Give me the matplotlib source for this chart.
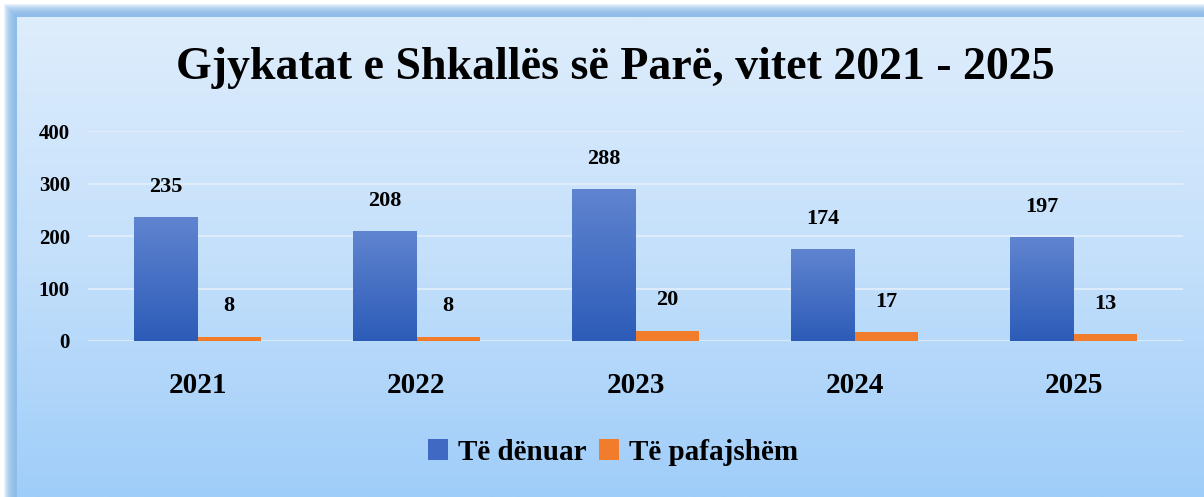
import numpy as np
import matplotlib.pyplot as plt
from matplotlib.colors import LinearSegmentedColormap
from matplotlib.patches import Patch, Rectangle

years = ['2021', '2022', '2023', '2024', '2025']
te_denuar = [235, 208, 288, 174, 197]
te_pafajshem = [8, 8, 20, 17, 13]
series_names = ['Të dënuar', 'Të pafajshëm']

serif = ['Liberation Serif', 'DejaVu Serif']
blue_top, blue_bot = '#6084d0', '#2c5cb8'
orange = '#f07c2c'

W, H = 1204, 497
fig = plt.figure(figsize=(W / 100, H / 100), dpi=100)
fig.patch.set_facecolor('white')

# fondi me gradient dhe hije e bute ne te majte/lart
bg = fig.add_axes([0, 0, 1, 1], zorder=-10)
bg.axis('off')
for i in range(12):
    off = 4 + i
    bg.add_patch(Rectangle((off, off), W, H, facecolor='#86b8e8', alpha=0.18, lw=0))
bg_cmap = LinearSegmentedColormap.from_list('bg', ['#deedfc', '#c4e0fb', '#9fcdf9'])
grad = np.linspace(0, 1, 256).reshape(-1, 1)
bg.imshow(grad, cmap=bg_cmap, extent=[17, W, H, 17], aspect='auto', zorder=2)
bg.set_xlim(0, W)
bg.set_ylim(H, 0)

fig.text(615 / W, 1 - 68 / H, 'Gjykatat e Shkallës së Parë, vitet 2021 - 2025',
         ha='center', va='center', fontsize=33, fontweight='bold', family=serif)

ax = fig.add_axes([88 / W, 1 - 341 / H, (1183 - 88) / W, (341 - 131) / H])
ax.patch.set_alpha(0)
x = np.arange(len(years))
w = 0.288
b1 = ax.bar(x - w / 2, te_denuar, w, color=blue_bot, zorder=3)
b2 = ax.bar(x + w / 2, te_pafajshem, w, color=orange, zorder=3)

# gradient ne shtyllat blu
bar_cmap = LinearSegmentedColormap.from_list('bar', [blue_bot, blue_top])
for p in b1:
    x0, y0 = p.get_x(), p.get_y()
    ax.imshow(grad, cmap=bar_cmap, origin='lower', aspect='auto', zorder=4,
              extent=[x0, x0 + p.get_width(), y0, y0 + p.get_height()])

for bars, vals in [(b1, te_denuar), (b2, te_pafajshem)]:
    for p, v in zip(bars, vals):
        ax.annotate(str(v), (p.get_x() + p.get_width() / 2, p.get_height()),
                    xytext=(0, 22), textcoords='offset points', ha='center', va='center',
                    fontsize=16, fontweight='bold', family=serif)

ax.set_xlim(-0.5, len(years) - 0.5)
ax.set_ylim(0, 400)
ax.set_yticks([0, 100, 200, 300, 400])
ax.set_xticks(x)
ax.set_xticklabels(years)
ax.tick_params(length=0)
ax.tick_params(axis='y', pad=13)
ax.tick_params(axis='x', pad=22)
for lab in ax.get_yticklabels():
    lab.set_fontsize(15)
    lab.set_fontweight('bold')
    lab.set_family(serif)
for lab in ax.get_xticklabels():
    lab.set_fontsize(21)
    lab.set_fontweight('bold')
    lab.set_family(serif)
ax.grid(axis='y', color='#e4eefa', lw=1.2, zorder=1)
for s in ax.spines.values():
    s.set_visible(False)

handles = [Patch(facecolor='#3f69c2'), Patch(facecolor=orange)]
fig.legend(handles, series_names, loc='center', bbox_to_anchor=(613 / W, 1 - 452 / H),
           ncol=2, frameon=False, handlelength=0.7, handleheight=0.7,
           handletextpad=0.35, columnspacing=0.4,
           prop={'family': serif, 'weight': 'bold', 'size': 21})

fig.savefig('out.png', dpi=100)
